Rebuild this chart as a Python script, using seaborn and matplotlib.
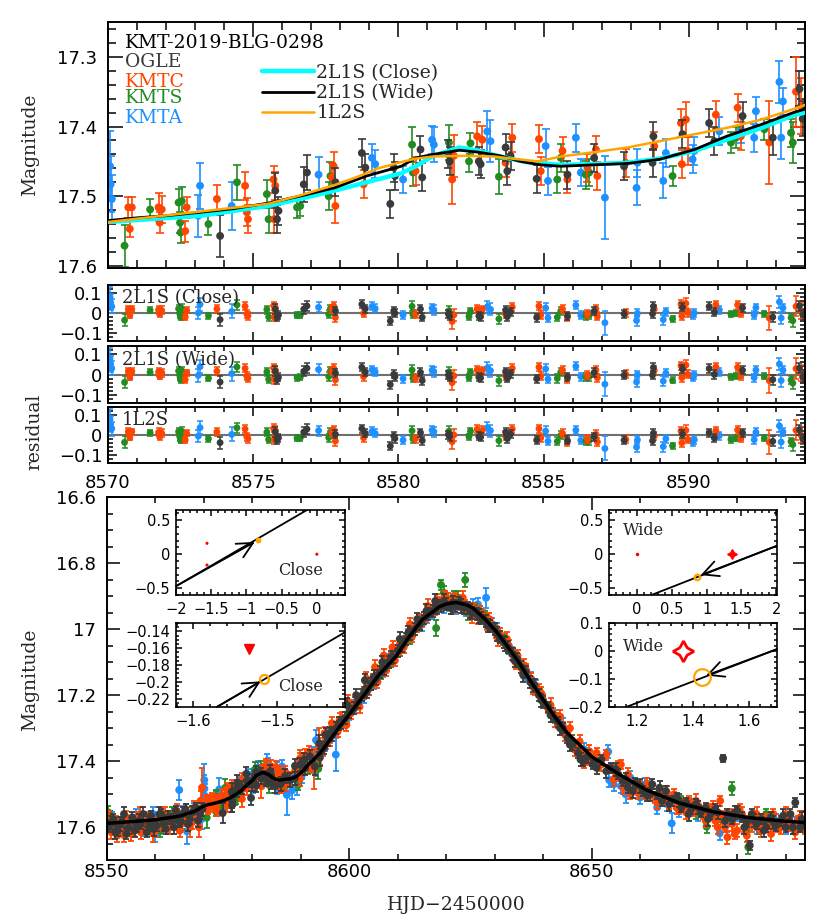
import numpy as np
import pandas as pd
import matplotlib
matplotlib.use("Agg")
import matplotlib.pyplot as plt
import seaborn as sns
from matplotlib.ticker import MultipleLocator, FuncFormatter
from matplotlib.lines import Line2D

# ---------------- data (HJD-2450000, magnitude, error) ----------------
ogle_pts = [
    (8550.4,17.600,.015),(8551.3,17.575,.015),(8552.2,17.610,.015),(8553.1,17.585,.015),(8554.0,17.620,.015),
    (8555.2,17.570,.015),(8556.1,17.600,.015),(8557.0,17.590,.015),(8558.2,17.615,.015),(8559.1,17.565,.015),
    (8560.3,17.595,.015),(8561.2,17.560,.015),(8562.1,17.605,.015),(8563.3,17.575,.015),(8564.2,17.550,.015),
    (8565.1,17.585,.015),(8566.2,17.545,.015),(8567.1,17.575,.015),(8568.3,17.540,.015),(8569.2,17.560,.015),
    (8550.8,17.585,.02),(8551.7,17.615,.02),(8552.6,17.590,.02),(8553.5,17.560,.02),(8554.5,17.600,.02),
    (8555.7,17.610,.02),(8556.6,17.580,.02),(8557.5,17.560,.02),(8558.7,17.590,.02),(8559.6,17.605,.02),
    (8560.8,17.560,.02),(8561.7,17.590,.02),(8562.6,17.570,.02),(8563.8,17.600,.02),(8564.7,17.580,.02),
    (8565.6,17.560,.02),(8566.7,17.590,.02),(8567.6,17.555,.02),(8568.8,17.580,.02),(8569.7,17.545,.02),
    (8573.86,17.557,.030),(8575.76,17.492,.025),(8575.82,17.533,.020),(8575.87,17.521,.020),(8576.74,17.483,.025),
    (8576.85,17.466,.025),(8577.83,17.480,.020),(8578.74,17.438,.020),(8578.86,17.459,.020),(8579.72,17.511,.020),
    (8579.84,17.459,.020),(8579.88,17.471,.020),(8580.76,17.433,.020),(8580.82,17.473,.020),(8581.72,17.440,.020),
    (8581.76,17.450,.020),(8582.77,17.450,.020),(8582.83,17.454,.020),(8583.69,17.430,.020),(8583.75,17.464,.020),
    (8583.86,17.442,.020),(8584.76,17.475,.020),(8585.82,17.469,.020),(8586.74,17.445,.020),(8587.77,17.457,.020),
    (8588.75,17.452,.020),(8588.78,17.414,.020),(8589.78,17.411,.020),(8590.70,17.395,.020),(8590.88,17.421,.020),
    (8591.85,17.385,.020),(8592.89,17.416,.025),(8593.81,17.346,.025),(8593.92,17.389,.025),
    (8594.8,17.360,.018),(8595.6,17.335,.018),(8596.5,17.320,.018),(8597.3,17.300,.018),(8598.2,17.285,.018),
    (8599.1,17.270,.018),(8600.0,17.250,.018),(8601.0,17.240,.018),(8601.8,17.220,.018),(8602.7,17.200,.018),
    (8603.6,17.190,.018),(8604.5,17.165,.018),(8605.5,17.150,.018),(8606.3,17.130,.018),(8607.2,17.120,.018),
    (8608.1,17.100,.018),(8609.0,17.085,.018),(8610.0,17.065,.018),(8610.8,17.050,.018),(8611.7,17.030,.018),
    (8612.6,17.015,.018),(8613.5,17.000,.018),(8614.5,16.985,.018),(8615.4,16.965,.018),(8616.3,16.955,.018),
    (8617.2,16.945,.018),(8618.1,16.935,.018),(8619.0,16.930,.018),(8620.0,16.925,.018),(8620.9,16.935,.018),
    (8621.8,16.930,.018),(8622.7,16.920,.018),(8623.6,16.935,.018),(8624.5,16.935,.018),(8625.4,16.950,.018),
    (8626.3,16.955,.018),(8627.2,16.965,.018),(8628.1,16.975,.018),(8629.0,16.990,.018),(8630.0,17.000,.018),
    (8631.0,17.025,.018),(8631.8,17.040,.018),(8632.7,17.055,.018),(8633.7,17.075,.018),(8634.6,17.090,.018),
    (8635.5,17.115,.018),(8636.4,17.130,.018),(8637.3,17.160,.018),(8638.2,17.170,.018),(8639.1,17.200,.018),
    (8640.0,17.220,.018),
    (8595.1,17.320,.02),(8596.0,17.315,.02),(8597.8,17.285,.02),(8599.6,17.230,.02),(8601.4,17.200,.02),
    (8603.2,17.155,.02),(8605.0,17.145,.02),(8606.8,17.100,.02),(8608.6,17.085,.02),(8610.4,17.030,.02),
    (8612.2,17.010,.02),(8614.0,16.970,.02),(8615.9,16.945,.02),(8617.7,16.915,.02),(8619.5,16.915,.02),
    (8621.3,16.920,.02),(8623.1,16.930,.02),(8624.9,16.945,.02),(8626.7,16.960,.02),(8628.5,16.990,.02),
    (8630.4,17.015,.02),(8632.2,17.045,.02),(8634.1,17.095,.02),(8635.9,17.140,.02),(8637.8,17.170,.02),
    (8639.6,17.215,.02),
    (8641.0,17.235,.015),(8642.0,17.265,.015),(8643.0,17.280,.015),(8644.0,17.300,.015),(8645.0,17.330,.015),
    (8646.0,17.350,.015),(8647.2,17.375,.015),(8648.2,17.400,.015),(8650.2,17.410,.015),(8652.0,17.395,.015),
    (8654.0,17.420,.015),(8655.5,17.440,.015),(8656.4,17.460,.015),(8657.5,17.480,.015),(8659.0,17.465,.015),
    (8660.5,17.490,.015),(8661.5,17.505,.015),(8662.5,17.470,.015),(8663.5,17.500,.015),(8664.5,17.520,.015),
    (8665.3,17.490,.015),(8666.5,17.520,.015),(8667.5,17.510,.015),(8668.5,17.540,.015),(8669.5,17.525,.015),
    (8670.5,17.545,.015),(8671.5,17.530,.015),(8672.5,17.555,.015),(8673.5,17.540,.015),(8674.5,17.560,.015),
    (8675.5,17.545,.015),(8677.1,17.391,.010),(8678.0,17.560,.015),(8679.0,17.575,.015),(8680.0,17.550,.015),
    (8681.0,17.570,.015),(8682.0,17.585,.015),(8682.6,17.655,.015),(8683.0,17.560,.015),(8684.0,17.590,.015),
    (8685.0,17.575,.015),(8686.0,17.600,.015),(8687.0,17.570,.015),(8688.0,17.595,.015),(8689.0,17.580,.015),
    (8690.0,17.600,.015),(8691.0,17.560,.015),(8692.0,17.525,.015),(8693.0,17.600,.015),(8693.8,17.590,.015),
    (8641.5,17.260,.02),(8643.5,17.300,.02),(8645.5,17.350,.02),(8647.7,17.395,.02),(8649.2,17.385,.02),
    (8651.0,17.420,.02),(8653.0,17.430,.02),(8655.0,17.425,.02),(8657.0,17.455,.02),(8658.5,17.490,.02),
    (8660.0,17.475,.02),(8662.0,17.500,.02),(8664.0,17.480,.02),(8666.0,17.530,.02),(8668.0,17.520,.02),
    (8670.0,17.560,.02),(8672.0,17.540,.02),(8674.0,17.575,.02),(8676.0,17.555,.02),(8677.5,17.580,.02),
    (8679.5,17.555,.02),(8681.5,17.600,.02),(8683.5,17.580,.02),(8685.5,17.610,.02),(8687.5,17.585,.02),
    (8689.5,17.565,.02),(8691.5,17.600,.02),(8693.3,17.575,.02),
]

kmtc_pts = [
    (8550.2,17.595,.015),(8550.9,17.615,.02),(8551.8,17.580,.015),(8552.7,17.600,.02),(8553.6,17.625,.02),
    (8554.6,17.585,.015),(8555.5,17.605,.02),(8556.4,17.570,.015),(8557.0,17.615,.02),(8557.8,17.590,.015),
    (8558.7,17.575,.02),(8559.4,17.618,.025),(8560.5,17.590,.02),(8561.4,17.560,.02),(8562.5,17.600,.02),
    (8563.6,17.570,.02),(8564.4,17.550,.02),(8565.3,17.585,.02),(8566.2,17.560,.03),(8567.1,17.600,.03),
    (8568.0,17.540,.02),(8568.7,17.575,.02),(8569.3,17.520,.03),(8569.6,17.480,.06),
    (8550.5,17.570,.02),(8551.2,17.600,.02),(8552.1,17.625,.02),(8553.0,17.590,.02),(8554.0,17.570,.02),
    (8555.0,17.620,.02),(8556.0,17.595,.02),(8556.8,17.560,.02),(8558.0,17.600,.02),(8559.0,17.580,.02),
    (8560.0,17.610,.02),(8561.0,17.585,.02),(8562.0,17.560,.02),(8563.0,17.600,.02),(8564.0,17.580,.02),
    (8565.0,17.610,.02),(8566.0,17.575,.02),(8567.5,17.585,.02),(8568.4,17.560,.02),(8569.0,17.600,.03),
    (8570.70,17.516,.015),(8570.82,17.516,.015),(8570.75,17.547,.012),(8571.74,17.516,.02),(8571.85,17.519,.02),
    (8571.78,17.538,.015),(8572.71,17.516,.015),(8572.66,17.550,.015),(8573.75,17.504,.02),(8574.72,17.485,.02),
    (8574.78,17.523,.02),(8574.82,17.533,.02),(8575.70,17.476,.02),(8575.76,17.485,.02),(8575.72,17.533,.02),
    (8577.77,17.457,.02),(8577.71,17.473,.02),(8577.83,17.514,.025),(8578.80,17.483,.02),(8580.59,17.464,.02),
    (8581.85,17.476,.035),(8581.91,17.442,.03),(8582.71,17.414,.02),(8582.89,17.419,.02),(8583.69,17.452,.02),
    (8583.92,17.416,.02),(8584.84,17.418,.02),(8584.90,17.464,.02),(8585.65,17.435,.02),(8585.82,17.476,.02),
    (8586.51,17.459,.02),(8586.80,17.433,.02),(8586.85,17.471,.02),(8587.83,17.452,.02),(8588.81,17.428,.02),
    (8589.73,17.395,.02),(8589.76,17.454,.02),(8589.90,17.390,.025),(8589.96,17.435,.02),(8590.93,17.383,.02),
    (8591.68,17.373,.02),(8591.79,17.414,.02),(8592.77,17.423,.06),(8593.69,17.350,.05),(8593.86,17.371,.04),
    (8594.5,17.365,.018),(8595.2,17.345,.018),(8596.0,17.335,.018),(8596.8,17.300,.018),(8597.6,17.310,.018),
    (8598.5,17.270,.018),(8599.4,17.290,.018),(8600.3,17.255,.018),(8601.2,17.225,.018),(8602.1,17.235,.018),
    (8603.0,17.195,.018),(8604.0,17.180,.018),(8604.9,17.155,.018),(8605.8,17.160,.018),(8606.7,17.120,.018),
    (8607.6,17.125,.018),(8608.5,17.090,.018),(8609.4,17.095,.018),(8610.3,17.060,.018),(8611.2,17.055,.018),
    (8612.1,17.020,.018),(8613.0,17.020,.018),(8614.0,16.990,.018),(8614.9,16.975,.018),(8615.8,16.960,.018),
    (8616.7,16.945,.018),(8617.6,16.940,.018),(8618.5,16.920,.018),(8619.4,16.925,.018),(8620.3,16.910,.018),
    (8621.2,16.935,.018),(8622.1,16.910,.018),(8623.0,16.925,.018),(8623.9,16.930,.018),(8624.8,16.945,.018),
    (8625.7,16.940,.018),(8626.6,16.965,.018),(8627.5,16.960,.018),(8628.4,16.985,.018),(8629.3,16.985,.018),
    (8630.2,17.010,.018),(8631.1,17.015,.018),(8632.0,17.040,.018),(8632.9,17.050,.018),(8633.8,17.080,.018),
    (8634.7,17.080,.018),(8635.6,17.120,.018),(8636.5,17.125,.018),(8637.4,17.150,.018),(8638.3,17.180,.018),
    (8639.2,17.185,.018),(8640.0,17.215,.018),
    (8594.9,17.315,.02),(8596.4,17.285,.02),(8598.0,17.275,.02),(8599.8,17.220,.02),(8601.6,17.215,.02),
    (8603.5,17.150,.02),(8605.3,17.115,.02),(8607.1,17.080,.02),(8608.9,17.055,.02),(8610.7,17.045,.02),
    (8612.5,16.985,.02),(8614.4,16.975,.02),(8616.2,16.930,.02),(8618.0,16.915,.02),(8619.8,16.905,.02),
    (8621.6,16.915,.02),(8623.4,16.905,.02),(8625.2,16.960,.02),(8627.0,16.950,.02),(8628.9,16.970,.02),
    (8630.7,17.030,.02),(8632.5,17.030,.02),(8634.3,17.100,.02),(8636.1,17.110,.02),(8637.9,17.175,.02),
    (8639.6,17.195,.02),
    (8641.0,17.240,.015),(8642.0,17.255,.015),(8643.0,17.285,.015),(8644.0,17.295,.015),(8645.0,17.310,.015),
    (8646.0,17.345,.015),(8647.0,17.360,.015),(8648.0,17.380,.015),(8649.0,17.395,.015),(8650.0,17.400,.015),
    (8651.0,17.375,.015),(8653.0,17.380,.015),(8654.0,17.420,.015),(8655.0,17.445,.015),(8656.0,17.410,.015),
    (8657.0,17.465,.015),(8658.0,17.500,.015),(8659.0,17.470,.015),(8660.0,17.475,.015),(8661.0,17.500,.015),
    (8662.0,17.480,.015),(8663.0,17.510,.015),(8664.0,17.495,.015),(8665.0,17.515,.015),(8666.0,17.530,.015),
    (8667.0,17.500,.015),(8668.0,17.545,.015),(8669.0,17.530,.015),(8670.0,17.520,.015),(8671.0,17.550,.015),
    (8672.0,17.535,.015),(8673.0,17.560,.015),(8674.5,17.545,.015),(8675.5,17.580,.015),(8676.5,17.520,.015),
    (8677.5,17.600,.015),(8678.5,17.560,.015),(8679.5,17.620,.015),(8680.5,17.545,.015),(8681.5,17.600,.015),
    (8682.5,17.580,.015),(8683.5,17.565,.015),(8684.5,17.600,.015),(8685.5,17.575,.015),(8686.5,17.590,.015),
    (8687.5,17.560,.015),(8688.5,17.600,.015),(8689.5,17.585,.015),(8690.5,17.570,.015),(8691.5,17.605,.015),
    (8692.5,17.580,.015),(8693.5,17.595,.015),
    (8641.5,17.230,.02),(8642.5,17.275,.02),(8643.5,17.265,.02),(8644.5,17.320,.02),(8645.5,17.300,.02),
    (8646.5,17.365,.02),(8647.5,17.340,.02),(8648.5,17.400,.02),(8649.5,17.370,.02),(8652.0,17.410,.02),
    (8654.5,17.455,.02),(8655.5,17.420,.02),(8656.5,17.480,.02),(8657.5,17.440,.02),(8659.5,17.495,.02),
    (8661.5,17.470,.02),(8663.5,17.525,.02),(8665.5,17.495,.02),(8667.5,17.540,.02),(8669.5,17.555,.02),
    (8671.5,17.520,.02),(8673.5,17.580,.02),(8675.0,17.540,.02),(8676.0,17.600,.02),(8677.0,17.570,.02),
    (8678.0,17.630,.02),(8679.0,17.590,.02),(8680.0,17.610,.02),(8681.0,17.560,.02),(8682.0,17.625,.02),
    (8683.0,17.595,.02),(8684.0,17.560,.02),(8685.0,17.610,.02),(8686.0,17.580,.02),(8687.0,17.620,.02),
    (8689.0,17.600,.02),(8690.0,17.560,.02),(8691.0,17.590,.02),(8692.0,17.615,.02),(8693.0,17.570,.02),
    (8694.0,17.600,.02),
]

kmts_pts = [
    (8550.3,17.555,.02),(8551.5,17.600,.02),(8553.5,17.575,.02),(8555.8,17.590,.02),(8558.5,17.580,.02),
    (8561.0,17.610,.02),(8562.5,17.570,.02),(8565.5,17.585,.02),(8567.5,17.560,.02),
    (8552.5,17.590,.02),(8557.0,17.600,.02),(8563.5,17.560,.02),(8569.0,17.555,.02),
    (8570.57,17.571,.03),(8571.45,17.519,.015),(8572.43,17.509,.02),(8572.54,17.507,.02),(8572.48,17.538,.015),
    (8572.50,17.552,.015),(8573.46,17.540,.015),(8574.44,17.480,.025),(8575.47,17.497,.02),(8575.53,17.533,.02),
    (8576.51,17.516,.015),(8576.62,17.514,.015),(8577.60,17.500,.02),(8577.66,17.471,.02),(8580.47,17.426,.025),
    (8580.50,17.466,.02),(8581.74,17.423,.025),(8582.43,17.450,.015),(8582.48,17.424,.015),(8583.46,17.472,.025),
    (8585.47,17.476,.02),(8585.59,17.445,.02),(8586.45,17.469,.02),(8586.57,17.466,.02),(8589.44,17.471,.015),
    (8591.45,17.423,.015),(8591.62,17.416,.015),(8592.60,17.404,.015),(8593.52,17.409,.02),(8593.58,17.423,.03),
    (8595.5,17.330,.015),(8597.5,17.300,.015),(8599.5,17.265,.015),(8601.5,17.220,.015),(8604.5,17.170,.015),
    (8606.5,17.135,.015),(8608.5,17.100,.015),(8610.5,17.065,.015),(8612.5,17.030,.015),(8614.5,16.990,.015),
    (8616.0,16.955,.015),(8617.9,16.997,.025),(8618.9,16.866,.015),(8620.0,16.905,.015),(8621.5,16.900,.015),
    (8623.9,16.851,.02),(8624.5,16.951,.02),(8626.0,16.935,.015),(8628.0,16.960,.015),(8630.0,16.995,.015),
    (8632.0,17.030,.015),(8634.0,17.080,.015),(8636.0,17.125,.015),(8638.0,17.170,.015),
    (8598.5,17.280,.015),(8603.0,17.190,.015),(8607.5,17.110,.015),(8611.5,17.035,.015),(8619.5,16.890,.02),
    (8622.5,16.905,.02),(8627.0,16.945,.015),(8633.0,17.060,.015),
    (8643.0,17.270,.015),(8650.0,17.395,.015),(8660.0,17.490,.015),(8668.5,17.520,.015),(8670.5,17.530,.015),
    (8673.7,17.598,.02),(8675.0,17.560,.015),(8678.9,17.482,.02),(8680.0,17.560,.015),(8682.0,17.610,.015),
    (8682.3,17.660,.02),(8686.0,17.560,.015),(8688.0,17.590,.015),(8690.0,17.575,.015),(8693.5,17.600,.015),
    (8646.0,17.340,.02),(8655.0,17.430,.02),(8664.5,17.510,.02),(8671.5,17.555,.02),(8677.0,17.580,.02),
    (8684.5,17.600,.02),(8691.0,17.585,.02),
]

kmta_pts = [
    (8551.0,17.575,.02),(8553.0,17.600,.02),(8555.0,17.590,.02),(8557.5,17.605,.02),(8559.5,17.560,.02),
    (8561.0,17.600,.02),(8563.0,17.575,.02),(8564.9,17.487,.03),(8566.5,17.612,.04),(8568.0,17.545,.02),
    (8552.0,17.590,.02),(8556.0,17.570,.025),(8560.0,17.620,.025),(8565.5,17.560,.025),(8569.5,17.575,.03),
    (8570.07,17.457,.05),(8570.09,17.483,.04),(8570.13,17.504,.035),(8573.17,17.485,.033),(8573.11,17.528,.03),
    (8574.26,17.514,.035),(8577.25,17.469,.025),(8579.09,17.445,.02),(8579.20,17.454,.02),(8580.16,17.476,.02),
    (8581.16,17.419,.02),(8581.22,17.426,.025),(8583.06,17.407,.03),(8583.17,17.421,.03),(8585.07,17.428,.025),
    (8585.15,17.478,.02),(8586.11,17.416,.02),(8586.28,17.466,.02),(8587.11,17.502,.06),(8588.20,17.488,.025),
    (8588.23,17.452,.02),(8589.12,17.478,.025),(8589.21,17.438,.02),(8590.13,17.447,.02),(8590.19,17.435,.02),
    (8591.05,17.407,.02),(8591.79,17.404,.02),(8592.25,17.416,.02),(8592.31,17.378,.02),(8593.12,17.336,.03),
    (8593.24,17.364,.02),(8593.18,17.416,.03),
    (8595.0,17.350,.02),(8597.2,17.380,.05),(8597.0,17.300,.02),(8599.0,17.280,.02),(8601.0,17.235,.02),
    (8603.0,17.205,.02),(8605.0,17.160,.02),(8607.0,17.125,.02),(8609.0,17.080,.02),(8611.0,17.050,.02),
    (8613.0,17.010,.02),(8615.0,16.985,.02),(8617.0,16.950,.02),(8619.5,16.930,.02),(8622.0,16.935,.02),
    (8624.0,16.940,.02),(8626.5,16.925,.02),(8628.2,16.905,.03),(8630.5,17.000,.02),(8632.5,17.045,.02),
    (8634.5,17.095,.02),(8636.5,17.135,.02),(8638.5,17.175,.02),
    (8596.0,17.325,.02),(8600.0,17.255,.02),(8604.0,17.180,.02),(8608.0,17.095,.02),(8612.0,17.020,.02),
    (8616.0,16.960,.02),(8620.5,16.925,.02),(8623.0,16.920,.02),(8625.5,16.935,.025),(8629.5,16.985,.02),
    (8633.5,17.075,.02),(8637.5,17.150,.02),
    (8641.5,17.250,.02),(8644.0,17.290,.02),(8646.0,17.340,.02),(8648.5,17.365,.02),(8653.4,17.371,.02),
    (8653.6,17.457,.02),(8654.5,17.470,.02),(8656.0,17.475,.02),(8658.0,17.450,.02),(8660.0,17.510,.02),
    (8662.0,17.480,.02),(8663.5,17.540,.02),(8664.0,17.500,.02),(8666.5,17.588,.03),(8668.0,17.550,.02),
    (8670.0,17.530,.02),(8676.4,17.618,.02),(8680.0,17.560,.02),(8684.0,17.600,.02),(8688.0,17.580,.02),
    (8692.0,17.590,.02),
    (8642.5,17.265,.02),(8650.5,17.400,.02),(8657.0,17.500,.025),(8661.0,17.470,.02),(8665.5,17.530,.02),
    (8672.0,17.560,.02),(8678.0,17.590,.025),(8686.0,17.575,.02),(8690.0,17.600,.02),
]

# model light curves
wide_t = [8550, 8555, 8560, 8565, 8568, 8570, 8571, 8572, 8573.2, 8574.3, 8575.5, 8576.6, 8577.8, 8578.9,
          8580.1, 8580.6, 8581.2, 8582.1, 8582.8, 8583.5, 8584.2, 8584.9, 8585.6, 8586.7, 8587.9, 8589.0,
          8590.2, 8591.3, 8592.5, 8593.6, 8594.0, 8596, 8598, 8600, 8603, 8606, 8609.6, 8612, 8615, 8618.6,
          8620, 8622, 8624, 8625.5, 8628, 8630.3, 8633, 8635.1, 8637.5, 8640, 8642.5, 8645, 8650, 8655.8,
          8661.3, 8668.2, 8675.1, 8682, 8688.8, 8694]
wide_mag = [17.588, 17.583, 17.577, 17.566, 17.552, 17.535, 17.531, 17.528, 17.523, 17.518, 17.510, 17.500,
            17.488, 17.471, 17.457, 17.445, 17.440, 17.434, 17.437, 17.442, 17.450, 17.455, 17.457, 17.455,
            17.453, 17.447, 17.433, 17.414, 17.397, 17.380, 17.375, 17.335, 17.295, 17.258, 17.200, 17.140,
            17.083, 17.030, 16.972, 16.932, 16.924, 16.919, 16.926, 16.936, 16.970, 17.007, 17.060, 17.103,
            17.160, 17.214, 17.268, 17.315, 17.386, 17.441, 17.487, 17.527, 17.553, 17.570, 17.580, 17.586]
close_t = [8570.0, 8573.2, 8575.5, 8576.6, 8577.8, 8578.9, 8580.1, 8580.6, 8581.2, 8582.1, 8582.8, 8583.5,
           8584.4, 8585.6, 8586.7, 8587.9, 8589.0, 8590.2, 8591.3, 8592.5, 8593.6, 8594.0]
close_mag = [17.537, 17.528, 17.514, 17.504, 17.492, 17.480, 17.467, 17.457, 17.442, 17.430, 17.435, 17.443,
             17.451, 17.455, 17.454, 17.452, 17.446, 17.435, 17.419, 17.402, 17.384, 17.380]
l2s_t = [8570.0, 8575.5, 8576.6, 8577.8, 8578.6, 8579.3, 8580.1, 8580.6, 8581.2, 8582.1, 8583.3, 8583.9,
         8584.8, 8585.6, 8586.7, 8587.9, 8589.0, 8590.2, 8591.3, 8592.5, 8593.6, 8594.0]
l2s_mag = [17.537, 17.511, 17.499, 17.484, 17.472, 17.460, 17.451, 17.446, 17.443, 17.442, 17.443, 17.446,
           17.450, 17.443, 17.437, 17.430, 17.421, 17.411, 17.402, 17.390, 17.375, 17.369]

# caustic-geometry insets
close_traj_x = [-2.0, -0.14]; close_traj_y = [-0.47, 0.65]
close_zoom_traj_x = [-1.572, -1.418]; close_zoom_traj_y = [-0.230, -0.141]
wide_traj_x = [2.0, 0.21]; wide_traj_y = [0.12, -0.60]
wide_zoom_traj_x = [1.70, 1.164]; wide_zoom_traj_y = [0.007, -0.200]
close_caustic_x = [-1.56, -1.56, 0.0]; close_caustic_y = [0.16, -0.16, 0.0]
close_zoom_caustic = (-1.533, -0.161)
wide_caustic_x = [0.0, 1.36]; wide_caustic_y = [0.0, 0.0]
wide_zoom_caustic = (1.364, 0.0)
close_src = (-0.83, 0.21); close_zoom_src = (-1.515, -0.197)
wide_src = (0.86, -0.33); wide_zoom_src = (1.433, -0.093)

colors = {"OGLE": "#3a3a3a", "KMTC": "#ff4500", "KMTS": "#228b22", "KMTA": "#1e90ff"}
order = ["KMTA", "KMTS", "KMTC", "OGLE"]

# ---------------- build frames ----------------
frames = []
for name, pts in [("OGLE", ogle_pts), ("KMTC", kmtc_pts), ("KMTS", kmts_pts), ("KMTA", kmta_pts)]:
    d = pd.DataFrame(pts, columns=["t", "mag", "err"])
    d["obs"] = name
    frames.append(d)
data = pd.concat(frames, ignore_index=True)
top = data[(data.t >= 8569.9) & (data.t <= 8594.1)].copy()
top["res_close"] = np.interp(top.t, close_t, close_mag) - top.mag
top["res_wide"] = np.interp(top.t, wide_t, wide_mag) - top.mag
top["res_l2s"] = np.interp(top.t, l2s_t, l2s_mag) - top.mag

# ---------------- style ----------------
sns.set_theme(style="ticks")
plt.rcParams["font.family"] = ["DejaVu Serif"]
plt.rcParams["axes.unicode_minus"] = True
TICKFONT = "DejaVu Sans"


def numfmt(v, pos):
    s = f"{v:.6g}"
    if s == "-0":
        s = "0"
    return s.replace("-", "\u2212")


def style(ax, xmaj, xmin, ymaj, ymin, lsize, lmaj, lmin, lw=1.4, padx=3, pady=5):
    ax.xaxis.set_major_locator(MultipleLocator(xmaj))
    ax.xaxis.set_minor_locator(MultipleLocator(xmin))
    ax.yaxis.set_major_locator(MultipleLocator(ymaj))
    ax.yaxis.set_minor_locator(MultipleLocator(ymin))
    ax.xaxis.set_major_formatter(FuncFormatter(numfmt))
    ax.yaxis.set_major_formatter(FuncFormatter(numfmt))
    ax.tick_params(which="both", direction="in", top=True, right=True, width=1.1,
                   color="black", labelcolor="black", labelsize=lsize, labelfontfamily=TICKFONT)
    ax.tick_params(which="major", length=lmaj)
    ax.tick_params(which="minor", length=lmin)
    ax.tick_params(axis="x", pad=padx)
    ax.tick_params(axis="y", pad=pady)
    for s in ax.spines.values():
        s.set_linewidth(lw)
        s.set_color("black")
    ax.set_facecolor("white")
    ax.set_xlabel("")
    ax.set_ylabel("")


def draw_data(ax, df, ycol, s, cap, elw):
    for i, name in enumerate(order):
        d = df[df.obs == name]
        z = 2 + i * 0.1
        ax.errorbar(d["t"], d[ycol], yerr=d["err"], fmt="none", ecolor=colors[name],
                    elinewidth=elw, capsize=cap, capthick=elw, zorder=z)
        sns.scatterplot(x=d["t"].values, y=d[ycol].values, color=colors[name], s=s,
                        edgecolor="none", linewidth=0, ax=ax, legend=False, zorder=z + 0.05)


W, H = 830, 917
fig = plt.figure(figsize=(W / 100, H / 100), dpi=100)
fig.patch.set_facecolor("white")


def box(x0, y0, x1, y1):
    return [x0 / W, 1 - y1 / H, (x1 - x0) / W, (y1 - y0) / H]


# ---------------- top light-curve zoom ----------------
ax = fig.add_axes(box(108, 22, 805, 268))
draw_data(ax, top, "mag", 32, 2.6, 1.2)
sns.lineplot(x=close_t, y=close_mag, color="#00ffff", lw=3.2, ax=ax, sort=False, estimator=None, zorder=5)
sns.lineplot(x=wide_t, y=wide_mag, color="black", lw=2.0, ax=ax, sort=False, estimator=None, zorder=6)
sns.lineplot(x=l2s_t, y=l2s_mag, color="#ffa500", lw=1.8, ax=ax, sort=False, estimator=None, zorder=7)
ax.set_xlim(8570, 8594)
ax.set_ylim(17.603, 17.25)
style(ax, 5, 1, 0.1, 0.02, 13, 10.5, 5.5, pady=8)
ax.tick_params(labelbottom=False)
ax.text(0.024, 0.915, "KMT-2019-BLG-0298", transform=ax.transAxes, fontsize=13.5, va="center", color="black")
for (name, yy) in [("OGLE", 0.837), ("KMTC", 0.756), ("KMTS", 0.690), ("KMTA", 0.610)]:
    ax.text(0.024, yy, name, transform=ax.transAxes, fontsize=13.5, va="center", color=colors[name])
handles = [Line2D([], [], color="#00ffff", lw=3.2), Line2D([], [], color="black", lw=2.0),
           Line2D([], [], color="#ffa500", lw=1.8)]
leg = ax.legend(handles, ["2L1S (Close)", "2L1S (Wide)", "1L2S"], loc="upper left",
                bbox_to_anchor=(0.221, 0.83), frameon=False, fontsize=13.5, handlelength=2.75,
                handletextpad=0.15, labelspacing=0.12, borderpad=0, borderaxespad=0)
fig.text(30 / W, 1 - 145 / H, "Magnitude", rotation=90, ha="center", va="center", fontsize=13.5)

# ---------------- residual panels ----------------
res_boxes = [box(108, 285, 805, 341), box(108, 346, 805, 403), box(108, 407, 805, 463)]
res_cols = ["res_close", "res_wide", "res_l2s"]
res_labels = ["2L1S (Close)", "2L1S (Wide)", "1L2S"]
for k in range(3):
    ax = fig.add_axes(res_boxes[k])
    ax.axhline(0, color="#707070", lw=1.5, zorder=1)
    draw_data(ax, top, res_cols[k], 24, 2.0, 1.1)
    ax.set_xlim(8570, 8594)
    ax.set_ylim(-0.14, 0.14)
    style(ax, 5, 1, 0.1, 0.02, 13, 6.5, 3.5, pady=4, padx=8)
    if k < 2:
        ax.tick_params(labelbottom=False)
    ax.text(0.02, 0.76, res_labels[k], transform=ax.transAxes, fontsize=13, va="center", zorder=10)
fig.text(34 / W, 1 - 432 / H, "residual", rotation=90, ha="center", va="center", fontsize=13.5)

# ---------------- full light curve ----------------
ax = fig.add_axes(box(107, 497, 805, 860))
draw_data(ax, data, "mag", 32, 2.5, 1.3)
sns.lineplot(x=wide_t, y=wide_mag, color="black", lw=2.5, ax=ax, sort=False, estimator=None, zorder=6)
ax.set_xlim(8550, 8694)
ax.set_ylim(17.699, 16.6)
style(ax, 50, 10, 0.2, 0.05, 13, 9, 4.5, padx=2, pady=8)
fig.text(30 / W, 1 - 680 / H, "Magnitude", rotation=90, ha="center", va="center", fontsize=13.5)
fig.text(456 / W, 1 - 905 / H, "HJD\u22122450000", ha="center", va="center", fontsize=13.5)


# ---------------- insets ----------------
def inset(rect, xlim, ylim, xmaj, xmin, ymaj, ymin):
    a = fig.add_axes(rect)
    a.set_xlim(*xlim)
    a.set_ylim(*ylim)
    style(a, xmaj, xmin, ymaj, ymin, 10.5, 4.5, 2.3, lw=1.2, padx=5, pady=4)
    a.set_zorder(20)
    return a


def traj(a, xs, ys, src, srcsize, filled):
    sns.lineplot(x=xs, y=ys, color="black", lw=1.3, ax=a, sort=False, estimator=None, zorder=3)
    a.annotate("", xy=src, xytext=(xs[0], ys[0]),
               arrowprops=dict(arrowstyle="->,head_length=0.4,head_width=0.2", color="black",
                               lw=1.3, mutation_scale=28, shrinkA=0, shrinkB=3))
    a.plot(*src, marker="o", ms=srcsize, mfc="#ffa500" if filled else "none", mec="#ffa500",
           mew=1.6, zorder=5, ls="none")


a1 = inset(box(176, 510, 345, 595), (-2, 0.4), (-0.6, 0.65), 0.5, 0.1, 0.5, 0.1)
sns.scatterplot(x=close_caustic_x, y=close_caustic_y, color="red", s=5, edgecolor="none", ax=a1, legend=False, zorder=4)
traj(a1, close_traj_x, close_traj_y, close_src, 2.6, True)
a1.text(0.74, 0.29, "Close", transform=a1.transAxes, ha="center", va="center", fontsize=11.5)

a2 = inset(box(176, 623, 345, 707), (-1.621, -1.418), (-0.23, -0.13), 0.1, 0.02, 0.02, 0.005)
a2.plot(*close_zoom_caustic, marker="v", ms=7, color="red", ls="none", zorder=4)
traj(a2, close_zoom_traj_x, close_zoom_traj_y, close_zoom_src, 6.5, False)
a2.text(0.74, 0.24, "Close", transform=a2.transAxes, ha="center", va="center", fontsize=11.5)

a3 = inset(box(609, 510, 777, 595), (-0.4, 2.01), (-0.6, 0.65), 0.5, 0.1, 0.5, 0.1)
a3.plot(wide_caustic_x[0], wide_caustic_y[0], marker="o", ms=1.5, color="red", ls="none", zorder=4)
a3.plot(wide_caustic_x[1], wide_caustic_y[1], marker=(4, 1, 0), ms=7, color="red", ls="none", zorder=4)
traj(a3, wide_traj_x, wide_traj_y, wide_src, 4, False)
a3.text(0.083, 0.76, "Wide", transform=a3.transAxes, ha="left", va="center", fontsize=11.5)

a4 = inset(box(609, 623, 777, 707), (1.1, 1.7), (-0.201, 0.101), 0.2, 0.04, 0.1, 0.02)
a4.plot(*wide_zoom_caustic, marker=(4, 1, 0), ms=15, mfc="white", mec="red", mew=2.0, ls="none", zorder=4)
traj(a4, wide_zoom_traj_x, wide_zoom_traj_y, wide_zoom_src, 12, False)
a4.text(0.083, 0.72, "Wide", transform=a4.transAxes, ha="left", va="center", fontsize=11.5)

fig.savefig("out.png", dpi=100, facecolor="white")
